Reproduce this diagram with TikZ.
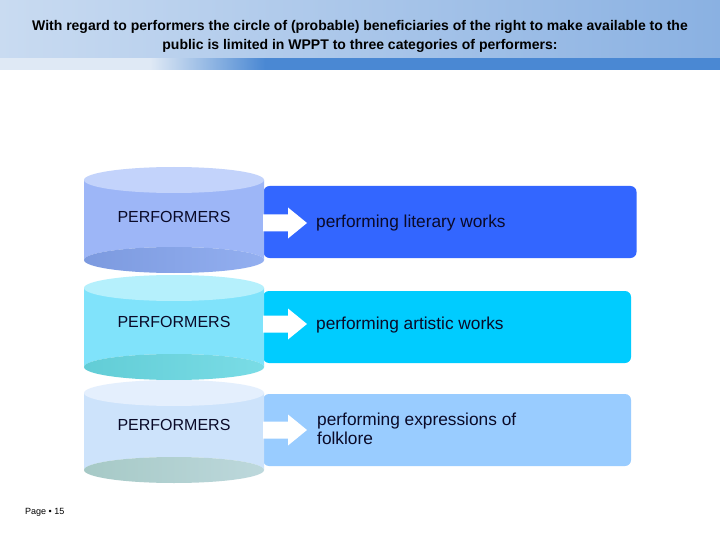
\documentclass[tikz,border=0pt]{standalone}
\usepackage{fontspec}
\setmainfont{Liberation Sans}
\usetikzlibrary{calc}
\definecolor{hdrL}{HTML}{C9DBF1}
\definecolor{hdrR}{HTML}{8AB1E2}
\definecolor{strL}{HTML}{DFE9F5}
\definecolor{strR}{HTML}{4A88D3}
\definecolor{boxA}{HTML}{3366FF}
\definecolor{boxB}{HTML}{00CCFF}
\definecolor{boxC}{HTML}{99CCFF}
\definecolor{cylAbody}{HTML}{9DB6F7}
\definecolor{cylAtop}{HTML}{C3D3FB}
\definecolor{cylAbotL}{HTML}{7C9ADF}
\definecolor{cylAbotR}{HTML}{93AFF0}
\definecolor{cylBbody}{HTML}{80E3FB}
\definecolor{cylBtop}{HTML}{B5F0FC}
\definecolor{cylBbotL}{HTML}{62CDD6}
\definecolor{cylBbotR}{HTML}{7ADCE6}
\definecolor{cylCbody}{HTML}{CDE3FB}
\definecolor{cylCtop}{HTML}{E4EFFD}
\definecolor{cylCbotL}{HTML}{A6C9C6}
\definecolor{cylCbotR}{HTML}{BDD8DC}
\definecolor{txtdark}{HTML}{0A0A28}
\tikzset{
  boxnode/.style={rounded corners=6pt, minimum width=373pt, minimum height=72pt, inner sep=0pt, draw=none},
  cyltext/.style={font=\fontsize{16}{18}\selectfont, text=txtdark, inner sep=0pt},
  itemtext/.style={font=\fontsize{17.3}{19}\selectfont, text=txtdark, anchor=west, align=left, inner sep=0pt},
}
\newcommand{\mycyl}[6]{% yt, yb, body, top, botL, botR
  \fill[#3] (84,#1) -- (84,#2) arc[start angle=180, end angle=360, x radius=90, y radius=13] -- (264,#1) -- cycle;
  \shade[left color=#5, right color=#6] (174,#2) ellipse[x radius=90, y radius=13];
  \fill[#4] (174,#1) ellipse[x radius=90, y radius=13];
}
\newcommand{\myarrow}[1]{% center y
  \fill[white] (263,#1-8.5) -- (288,#1-8.5) -- (288,#1-15.5) -- (307,#1) -- (288,#1+15.5) -- (288,#1+8.5) -- (263,#1+8.5) -- cycle;
}
\begin{document}
\begin{tikzpicture}[x=1pt, y=-1pt]
\useasboundingbox (0,0) rectangle (720,540);
\fill[white] (0,0) rectangle (720,540);
% header stripe
\fill[strR] (0,57) rectangle (720,70);
\fill[strL] (0,57) rectangle (151,70);
\shade[left color=strL, right color=strR] (150,57) rectangle (265,70);
\fill[white] (0,70) rectangle (720,75);
% header band
\shade[left color=hdrL, right color=hdrR] (0,0) rectangle (720,57.3);
\node[font=\bfseries\fontsize{14}{19}\selectfont, align=center, inner sep=0pt] (title) at (360,36.5)
  {With regard to performers the circle of (probable) beneficiaries of the right to make available to the\\
   public is limited in WPPT to three categories of performers:};
% boxes
\node[boxnode, fill=boxA] (b1) at (450,222) {};
\node[boxnode, fill=boxB, minimum width=368pt] (b2) at (447,327) {};
\node[boxnode, fill=boxC, minimum width=368pt] (b3) at (447,430) {};
% cylinders
\mycyl{180}{260}{cylAbody}{cylAtop}{cylAbotL}{cylAbotR}
\mycyl{288}{367}{cylBbody}{cylBtop}{cylBbotL}{cylBbotR}
\mycyl{393}{470}{cylCbody}{cylCtop}{cylCbotL}{cylCbotR}
\node[cyltext] (c1) at (174,217) {PERFORMERS};
\node[cyltext] (c2) at (174,322) {PERFORMERS};
\node[cyltext] (c3) at (174,425) {PERFORMERS};
% arrows
\myarrow{223}
\myarrow{324}
\myarrow{430}
% item texts
\node[itemtext] (t1) at (316,223) {performing literary works};
\node[itemtext] (t2) at (316,325) {performing artistic works};
\node[itemtext] (t3) at (317,429) {performing expressions of\\folklore};
% page
\node[font=\fontsize{9}{11}\selectfont, anchor=west, inner sep=0pt] (pg) at (25,512) {Page \textbullet{} 15};
\end{tikzpicture}
\end{document}
